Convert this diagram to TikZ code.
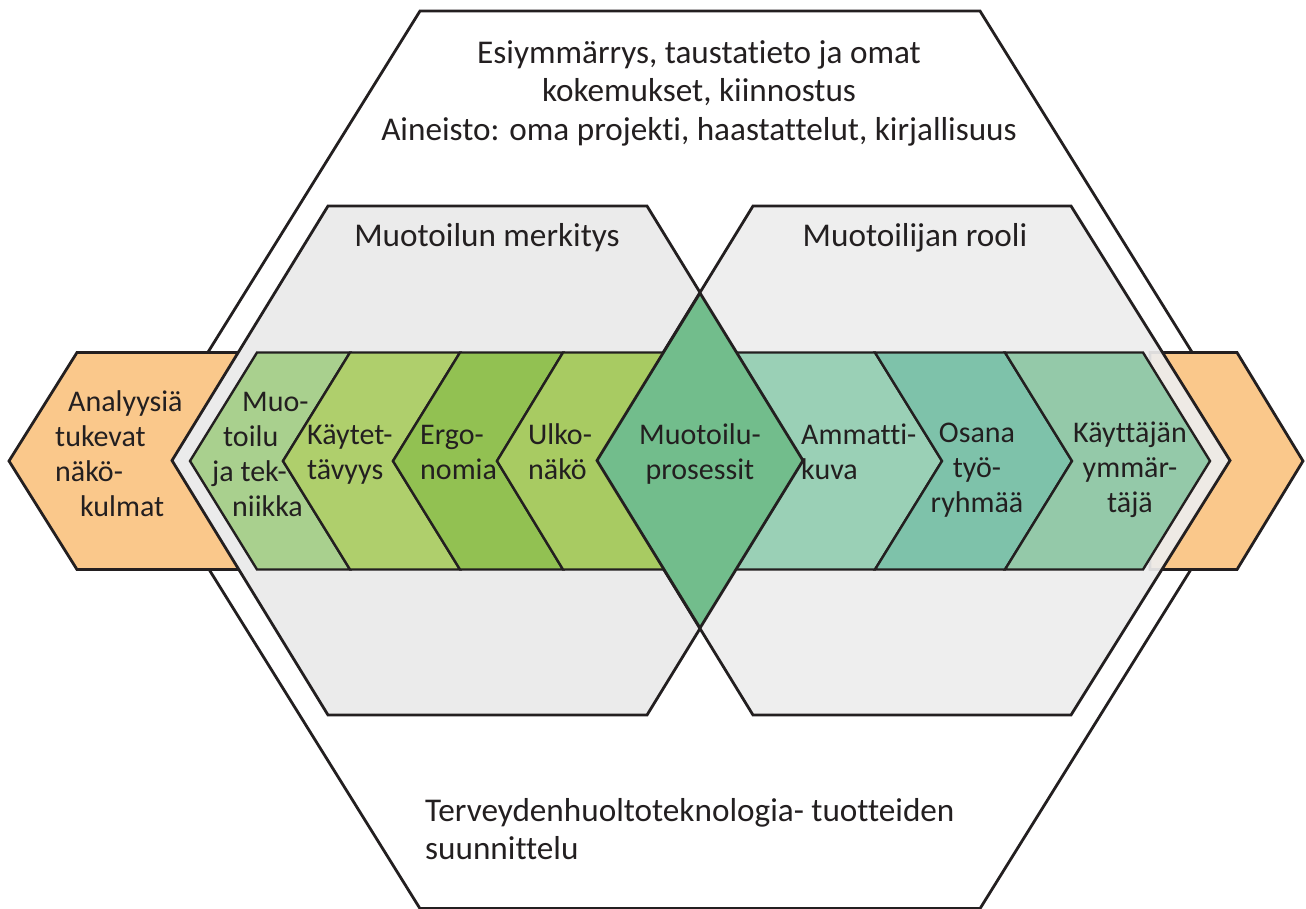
\documentclass[tikz,border=0pt]{standalone}
\usepackage{fontspec}
\setmainfont{Carlito}[Ligatures=NoCommon]
\definecolor{ink}{HTML}{231F20}
\definecolor{orng}{HTML}{FAC88B}
\definecolor{hexgray}{HTML}{EBEBEB}
\definecolor{hexgrayb}{HTML}{EDEDED}
\definecolor{gA}{HTML}{A9D08E}
\definecolor{gB}{HTML}{AFCF6C}
\definecolor{gC}{HTML}{92C152}
\definecolor{gD}{HTML}{A8CB62}
\definecolor{dia}{HTML}{72BD8C}
\definecolor{tA}{HTML}{9AD0B6}
\definecolor{tB}{HTML}{7EC2AA}
\definecolor{tC}{HTML}{94C9A9}
\begin{document}
\begin{tikzpicture}[x=1pt,y=-1pt,
  outline/.style={draw=ink, line width=2.8pt, line join=miter},
  chev/.style={draw=ink, line width=2.4pt, line join=miter},
  lbl/.style={inner sep=0pt, text=ink, font=\fontsize{30}{35}\selectfont},
  big/.style={inner sep=0pt, text=ink, font=\fontsize{33.2}{38.5}\selectfont}]

\useasboundingbox (0,0) rectangle (1306,908);
\fill[white] (0,0) rectangle (1306,908);

% outer hexagon
\filldraw[outline, fill=white] (141,460) -- (420,11) -- (980,11) -- (1259,460) -- (980,908.6) -- (420,908.6) -- cycle;
% orange side shapes
\filldraw[outline, fill=orng] (77,352.5) -- (9,461) -- (77,569.5) -- (260,569.5) -- (260,352.5) -- cycle;
\filldraw[outline, fill=orng] (1150,352.5) -- (1237,352.5) -- (1303,461) -- (1237,569.5) -- (1150,569.5) -- cycle;
% left hexagon
\filldraw[outline, fill=hexgray] (172,460.5) -- (328,206) -- (647,206) -- (803,460.5) -- (647,715) -- (328,715) -- cycle;
% right hexagon
\filldraw[outline, fill=hexgrayb, fill opacity=0.92] (597,460.5) -- (753,206) -- (1071,206) -- (1230,460.5) -- (1071,715) -- (753,715) -- cycle;

% left chevrons
\filldraw[chev, fill=gA] (257,352.5) -- (350,352.5) -- (283,461) -- (350,569.5) -- (257,569.5) -- (190,461) -- cycle;
\filldraw[chev, fill=gB] (350,352.5) -- (460,352.5) -- (393,461) -- (460,569.5) -- (350,569.5) -- (283,461) -- cycle;
\filldraw[chev, fill=gC] (460,352.5) -- (563,352.5) -- (497,461) -- (563,569.5) -- (460,569.5) -- (393,461) -- cycle;
\filldraw[chev, fill=gD] (563,352.5) -- (700,352.5) -- (700,569.5) -- (563,569.5) -- (497,461) -- cycle;
% right chevrons
\filldraw[chev, fill=tA] (700,352.5) -- (875,352.5) -- (942,461) -- (875,569.5) -- (700,569.5) -- cycle;
\filldraw[chev, fill=tB] (875,352.5) -- (1005,352.5) -- (1072,461) -- (1005,569.5) -- (875,569.5) -- (942,461) -- cycle;
\filldraw[chev, fill=tC] (1005,352.5) -- (1143,352.5) -- (1210,461) -- (1143,569.5) -- (1005,569.5) -- (1072,461) -- cycle;
% diamond
\filldraw[outline, fill=dia] (700,293) -- (803,460.5) -- (700,628) -- (597,460.5) -- cycle;

% texts
\node[big, align=center] (pre) at (699,93.8) {\strut Esiymmärrys, taustatieto ja omat\\kokemukset, kiinnostus\\Aineisto: oma projekti, haastattelut, kirjallisuus\strut};
\node[big, anchor=base] (merk) at (487,246) {Muotoilun merkitys};
\node[big, anchor=base] (rooli) at (915,246) {Muotoilijan rooli};
\node[big, align=left, anchor=west] (tth) at (425,833) {\strut Terveydenhuoltoteknologia- tuotteiden\\suunnittelu\strut};

\node[lbl, align=left, anchor=west] (ana) at (55,456.5) {\strut\hspace*{13pt}Analyysiä\\tukevat\\näkö-\\\hspace*{25pt}kulmat\strut};
\node[lbl, align=left, anchor=west] (mt) at (212,456.5) {\strut\hspace*{30pt}Muo-\\\hspace*{11pt}toilu\\ja tek-\\\hspace*{20pt}niikka\strut};
\node[lbl, align=left, anchor=west] (kt) at (307,454.5) {\strut Käytet-\\tävyys\strut};
\node[lbl, align=left, anchor=west] (erg) at (420,454.5) {\strut Ergo-\\nomia\strut};
\node[lbl, align=left, anchor=west] (ulk) at (528,454.5) {\strut Ulko-\\näkö\strut};
\node[lbl, align=center] (mp) at (700,454.5) {\strut Muotoilu-\\prosessit\strut};
\node[lbl, align=left, anchor=west] (amm) at (801,454.5) {\strut Ammatti-\\kuva\strut};
\node[lbl, align=center] (osa) at (977,470) {\strut Osana\\työ-\\ryhmää\strut};
\node[lbl, align=center] (kay) at (1130,470) {\strut Käyttäjän\\ymmär-\\täjä\strut};
\end{tikzpicture}
\end{document}
